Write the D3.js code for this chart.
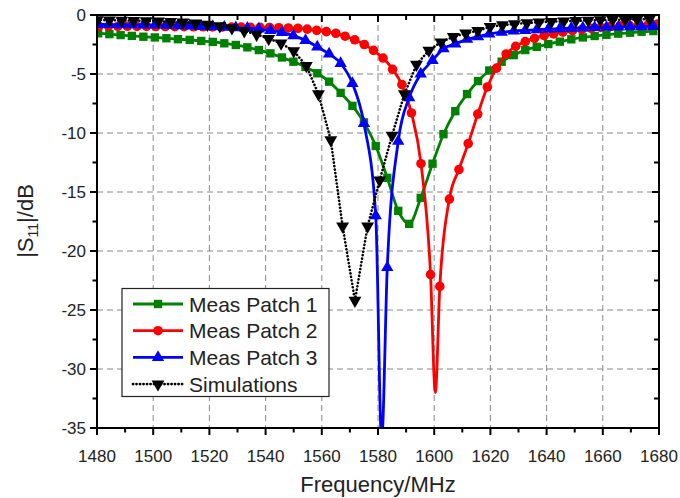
<!DOCTYPE html>
<html>
<head>
<meta charset="utf-8">
<script src="https://cdn.jsdelivr.net/npm/d3@7"></script>
<style>
  body { margin: 0; background: #fff; }
  svg { display: block; font-family: "Liberation Sans", Arial, sans-serif; }
</style>
</head>
<body>
<svg width="680" height="498"></svg>
<script>
// measured sweeps (patch 1 & 3 share the same marker frequencies)
const measFreq = [1480.4,1484.4,1488.4,1492.4,1496.5,1500.6,1504.7,1508.8,1513.0,1517.1,1521.2,1525.3,1529.4,1533.5,1537.6,1541.7,1545.8,1549.9,1554.2,1558.4,1562.6,1566.7,1570.9,1575.0,1579.2,1583.3,1587.2,1591.1,1595.2,1599.4,1603.3,1607.5,1611.7,1615.6,1619.6,1624.0,1628.3,1632.4,1636.5,1640.6,1644.7,1648.8,1652.9,1657.1,1661.3,1665.5,1669.7,1673.8,1678.0];
const patch1 = [-1.55,-1.62,-1.7,-1.77,-1.84,-1.9,-1.97,-2.05,-2.11,-2.2,-2.28,-2.4,-2.54,-2.74,-2.97,-3.25,-3.6,-3.96,-4.4,-4.94,-5.65,-6.6,-7.7,-9.1,-11.1,-13.8,-16.6,-17.7,-15.5,-12.6,-10.1,-8.15,-6.7,-5.6,-4.7,-3.96,-3.4,-2.97,-2.7,-2.46,-2.26,-2.06,-1.9,-1.78,-1.68,-1.58,-1.5,-1.42,-1.36];
const patch3 = [-0.8,-0.81,-0.82,-0.83,-0.84,-0.85,-0.87,-0.9,-0.93,-0.96,-0.99,-1.03,-1.07,-1.12,-1.19,-1.3,-1.47,-1.75,-2.15,-2.7,-3.3,-4.1,-5.8,-9.2,-17.0,-21.4,-10.7,-7.0,-5.0,-3.85,-2.85,-2.45,-2.06,-1.84,-1.6,-1.45,-1.36,-1.3,-1.25,-1.2,-1.16,-1.12,-1.09,-1.06,-1.04,-1.02,-1.0,-0.98,-0.96];
const patch3DipFreq = [1581.3];
const patch3DipVal = [-36];

const patch2Freq = [1480.7,1484.1,1487.4,1490.8,1494.2,1497.6,1500.9,1504.3,1507.7,1511.0,1514.4,1517.8,1521.1,1524.5,1527.9,1531.3,1534.6,1538.0,1541.4,1544.7,1548.1,1551.5,1554.8,1558.2,1561.6,1565.0,1568.3,1571.7,1575.1,1578.4,1581.8,1585.2,1588.5,1591.9,1595.3,1598.7,1602.0,1605.4,1608.8,1612.1,1615.5,1618.9,1622.2,1625.6,1629.0,1632.4,1635.7,1639.1,1642.5,1645.8,1649.2,1652.6,1655.9,1659.3,1662.7,1666.1,1669.4,1672.8,1676.2,1679.5];
const patch2 = [-0.95,-0.95,-0.96,-0.96,-0.97,-0.97,-0.98,-0.98,-0.99,-0.99,-1.0,-1.0,-1.01,-1.02,-1.02,-1.03,-1.04,-1.05,-1.06,-1.08,-1.1,-1.13,-1.2,-1.3,-1.41,-1.55,-1.8,-2.1,-2.5,-3.0,-3.65,-4.6,-5.9,-8.3,-12.6,-22,-23,-15.6,-13.1,-10.9,-8.4,-6.1,-4.5,-3.3,-2.65,-2.25,-1.98,-1.75,-1.6,-1.45,-1.33,-1.22,-1.13,-1.05,-0.98,-0.92,-0.87,-0.83,-0.79,-0.76];
const patch2DipFreq = [1600.4];
const patch2DipVal = [-32];

const simFreq = [1480.1,1484.4,1488.8,1493.1,1497.5,1501.9,1506.2,1510.6,1515.0,1519.3,1523.7,1528.0,1532.4,1536.8,1541.1,1545.5,1550.0,1554.5,1558.8,1563.2,1567.4,1571.8,1576.3,1580.6,1585.0,1589.4,1593.7,1598.1,1602.4,1606.8,1611.2,1615.5,1619.9,1624.3,1628.6,1633.0,1637.3,1641.7,1646.1,1650.4,1654.8,1659.1,1663.5,1667.9,1672.2,1676.6];
const sim = [-0.42,-0.44,-0.46,-0.48,-0.5,-0.53,-0.57,-0.62,-0.7,-0.8,-0.93,-1.1,-1.35,-1.65,-2.0,-2.4,-3.05,-4.3,-6.7,-10.6,-17.9,-24.2,-17.9,-14.0,-10.2,-6.7,-4.2,-3.0,-2.3,-1.85,-1.55,-1.33,-1.0,-0.85,-0.76,-0.68,-0.62,-0.57,-0.53,-0.49,-0.46,-0.43,-0.41,-0.39,-0.37,-0.35];

const xTicks = [1480,1500,1520,1540,1560,1580,1600,1620,1640,1660,1680];
const yTicks = [0,-5,-10,-15,-20,-25,-30,-35];
const legendNames = ["Meas Patch 1","Meas Patch 2","Meas Patch 3","Simulations"];

const svg = d3.select("svg");
const pl = 97, pr = 659, pt = 15, pb = 428;

const x = d3.scaleLinear().domain([1480, 1680]).range([pl, pr]);
const y = d3.scaleLinear().domain([-35, 0]).range([pb, pt]);

const zip = (f, v) => f.map((d, i) => ({f: d, v: v[i]}));
const series = [
  {name: legendNames[0], color: "#008000", shape: d3.symbolSquare, size: 70,
   marks: zip(measFreq, patch1), extra: [], dash: null, curve: d3.curveMonotoneX},
  {name: legendNames[1], color: "#ff0000", shape: d3.symbolCircle, size: 72,
   marks: zip(patch2Freq, patch2), extra: zip(patch2DipFreq, patch2DipVal), dash: null, curve: d3.curveMonotoneX},
  {name: legendNames[2], color: "#0000ff", shape: d3.symbolTriangle, size: 66,
   marks: zip(measFreq, patch3), extra: zip(patch3DipFreq, patch3DipVal), dash: null, curve: d3.curveMonotoneX},
  {name: legendNames[3], color: "#000000", shape: d3.symbolTriangle, size: 72, flip: true,
   marks: zip(simFreq, sim), extra: [], dash: "0.1,3.4", curve: d3.curveLinear}
];

svg.append("defs").append("clipPath").attr("id", "plot")
  .append("rect").attr("x", pl).attr("y", pt).attr("width", pr - pl).attr("height", pb - pt);

// grid
const grid = svg.append("g").attr("stroke", "#888").attr("stroke-width", 1).attr("stroke-dasharray", "6,4");
grid.selectAll("line.gx").data(xTicks.slice(1, -1)).enter().append("line")
  .attr("x1", d => x(d)).attr("x2", d => x(d)).attr("y1", pt).attr("y2", pb);
grid.selectAll("line.gy").data(yTicks.slice(1, -1)).enter().append("line")
  .attr("x1", pl).attr("x2", pr).attr("y1", d => y(d)).attr("y2", d => y(d));

// data
const plot = svg.append("g").attr("clip-path", "url(#plot)");
series.forEach(s => {
  const pts = s.marks.concat(s.extra).sort((a, b) => a.f - b.f);
  const line = d3.line().x(d => x(d.f)).y(d => y(d.v)).curve(s.curve);
  plot.append("path").datum(pts)
    .attr("fill", "none").attr("stroke", s.color).attr("stroke-width", s.dash ? 2.6 : 2.8)
    .attr("stroke-dasharray", s.dash).attr("stroke-linecap", s.dash ? "round" : "butt")
    .attr("stroke-linejoin", "round")
    .attr("d", line);
  const sym = d3.symbol().type(s.shape).size(s.size);
  plot.selectAll(null).data(s.marks).enter().append("path")
    .attr("d", sym)
    .attr("fill", s.color)
    .attr("transform", d => `translate(${x(d.f)},${y(d.v)})` + (s.flip ? " rotate(180)" : ""));
});

// axes
const xMinor = d3.range(1490, 1680, 20);
const yMinor = d3.range(-2.5, -35, -5);
const ax = svg.append("g").attr("stroke", "#000");
ax.append("rect").attr("x", pl).attr("y", pt).attr("width", pr - pl).attr("height", pb - pt)
  .attr("fill", "none").attr("stroke-width", 2);
const tick = (data, len, fn) => ax.selectAll(null).data(data).enter().append("line")
  .attr("stroke-width", 2).each(function (d) { fn(d3.select(this), d, len); });
// bottom (outward) and top (inward)
tick(xTicks, 7, (l, d, n) => l.attr("x1", x(d)).attr("x2", x(d)).attr("y1", pb).attr("y2", pb + n));
tick(xMinor, 4.5, (l, d, n) => l.attr("x1", x(d)).attr("x2", x(d)).attr("y1", pb).attr("y2", pb + n));
tick(xTicks, 7, (l, d, n) => l.attr("x1", x(d)).attr("x2", x(d)).attr("y1", pt).attr("y2", pt + n));
tick(xMinor, 5, (l, d, n) => l.attr("x1", x(d)).attr("x2", x(d)).attr("y1", pt).attr("y2", pt + n));
// left (outward) and right (inward)
tick(yTicks, 7, (l, d, n) => l.attr("y1", y(d)).attr("y2", y(d)).attr("x1", pl).attr("x2", pl - n));
tick(yMinor, 4.5, (l, d, n) => l.attr("y1", y(d)).attr("y2", y(d)).attr("x1", pl).attr("x2", pl - n));
tick(yTicks, 7, (l, d, n) => l.attr("y1", y(d)).attr("y2", y(d)).attr("x1", pr).attr("x2", pr - n));
tick(yMinor, 5, (l, d, n) => l.attr("y1", y(d)).attr("y2", y(d)).attr("x1", pr).attr("x2", pr - n));

svg.append("g").selectAll("text").data(xTicks).enter().append("text")
  .attr("x", d => x(d)).attr("y", 462).attr("text-anchor", "middle")
  .attr("font-size", 17).attr("fill", "#222").text(d => d);
svg.append("g").selectAll("text").data(yTicks).enter().append("text")
  .attr("x", 86).attr("y", d => y(d) + 6).attr("text-anchor", "end")
  .attr("font-size", 17).attr("fill", "#222").text(d => d);

svg.append("text").attr("x", (pl + pr) / 2).attr("y", 492).attr("text-anchor", "middle")
  .attr("font-size", 22).attr("fill", "#222").text("Frequency/MHz");

const yt = svg.append("text").attr("transform", "translate(33,221) rotate(-90)")
  .attr("text-anchor", "middle").attr("font-size", 22).attr("fill", "#222");
yt.append("tspan").text("|S");
yt.append("tspan").attr("font-size", 14).attr("dy", 5).text("11");
yt.append("tspan").attr("dy", -5).text("|/dB");

// legend
const lg = svg.append("g");
lg.append("rect").attr("x", 122).attr("y", 288.5).attr("width", 207).attr("height", 108)
  .attr("fill", "#fff").attr("stroke", "#222").attr("stroke-width", 1.2);
series.forEach((s, i) => {
  const cy = 304 + i * 26.7;
  lg.append("line").attr("x1", 133).attr("x2", 183).attr("y1", cy).attr("y2", cy)
    .attr("stroke", s.color).attr("stroke-width", 2.8).attr("stroke-dasharray", s.dash)
    .attr("stroke-linecap", s.dash ? "round" : "butt");
  lg.append("path").attr("d", d3.symbol().type(s.shape).size(s.size))
    .attr("fill", s.color).attr("transform", `translate(158,${cy})` + (s.flip ? " rotate(180)" : ""));
  lg.append("text").attr("x", 189).attr("y", cy + 7.5).attr("font-size", 21).attr("fill", "#222").text(s.name);
});
</script>
</body>
</html>
